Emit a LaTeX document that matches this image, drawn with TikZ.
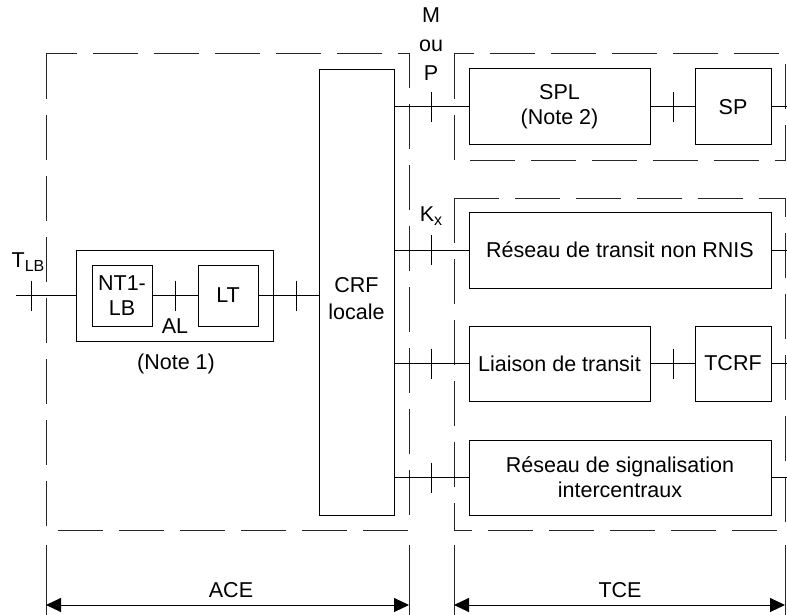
\documentclass[tikz,border=0pt]{standalone}
\usepackage{fontspec}
\setmainfont{Liberation Sans}
\usetikzlibrary{arrows.meta}
\begin{document}
\begin{tikzpicture}[x=1pt,y=-1pt,line width=1pt,
  box/.style={draw,line width=1pt,inner sep=0pt,align=center,font=\fontsize{21.5}{25}\selectfont},
  lbl/.style={inner sep=0pt,align=center,font=\fontsize{21.5}{27}\selectfont},
  frame/.style={draw=black!85,line width=1pt,dash pattern=on 45pt off 16pt},
  ext/.style={draw=black!85,line width=1pt},
  wire/.style={draw,line width=1pt},
  dimarrow/.style={line width=1pt,{Triangle[length=15pt,width=14pt]}-{Triangle[length=15pt,width=14pt]}}]
\useasboundingbox (0,0) rectangle (787,615);

% dashed frames
\draw[frame] (46,54) rectangle (409,530);
\draw[frame] (454,54) rectangle (785,160);
\draw[frame] (454,198) rectangle (785,530);
\foreach \x in {46,409,454,785} \draw[ext] (\x,545) -- (\x,615);

% boxes
\node[box,minimum width=75pt,minimum height=445pt] (crf) at (356.5,292.5) {};
\node[lbl] (crft) at (356.5,299) {CRF\\locale};
\node[box,minimum width=197pt,minimum height=91pt] (outer) at (174.5,295.5) {};
\node[box,minimum width=60pt,minimum height=61pt] (nt1) at (122,295.5) {NT1-\\LB};
\node[box,minimum width=60pt,minimum height=61pt] (lt) at (228,295.5) {LT};
\node[box,minimum width=181pt,minimum height=76pt] (spl) at (559.5,107) {SPL\\(Note 2)};
\node[box,minimum width=76pt,minimum height=76pt] (sp) at (733,107) {SP};
\node[box,minimum width=302pt,minimum height=76pt] (rtn) at (620,250) {Réseau de transit non RNIS};
\node[box,minimum width=181pt,minimum height=75pt] (lia) at (559.5,363.5) {Liaison de transit};
\node[box,minimum width=76pt,minimum height=75pt] (tcrf) at (733,363.5) {TCRF};
\node[box,minimum width=302pt,minimum height=75pt] (rsi) at (620,477.5) {Réseau de signalisation\\intercentraux};

% free ends
\coordinate (tin) at (16,295.5);
\coordinate (e1) at (787,107);
\coordinate (e2) at (787,250);
\coordinate (e3) at (787,363.5);
\coordinate (e4) at (787,477.5);

% connectors
\draw[wire] (tin) -- (outer.west);
\draw[wire] (nt1.east) -- (lt.west);
\draw[wire] (lt.east) -- (crf.west |- lt.east);
\draw[wire] (crf.east |- spl.west) -- (spl.west);
\draw[wire] (spl.east) -- (sp.west);
\draw[wire] (sp.east) -- (e1);
\draw[wire] (crf.east |- rtn.west) -- (rtn.west);
\draw[wire] (rtn.east) -- (e2);
\draw[wire] (crf.east |- lia.west) -- (lia.west);
\draw[wire] (lia.east) -- (tcrf.west);
\draw[wire] (tcrf.east) -- (e3);
\draw[wire] (crf.east |- rsi.west) -- (rsi.west);
\draw[wire] (rsi.east) -- (e4);

% ticks
\foreach \x/\y in {31/295.5,175/295.5,296/295.5,431/107,431/250,431/363.5,431/477.5,673/107,673/363.5}
  \draw[wire] (\x,\y-15) -- (\x,\y+15);

% labels
\node[lbl] (tlb) at (28,262) {T\raisebox{-0.35ex}{\fontsize{16}{16}\selectfont LB}};
\node[lbl] (al) at (175,326) {AL};
\node[lbl] (note1) at (176,364) {(Note 1)};
\node[lbl,font=\fontsize{21.5}{29}\selectfont] (mop) at (431,44.5) {M\\ou\\P};
\node[lbl] (kx) at (431,216) {K\raisebox{-0.35ex}{\fontsize{16}{16}\selectfont x}};
\node[lbl] (ace) at (231,590) {ACE};
\node[lbl] (tce) at (620,590) {TCE};

% dimension arrows
\coordinate (a1) at (46,605);
\coordinate (a2) at (409,605);
\coordinate (b1) at (454,605);
\coordinate (b2) at (785,605);
\draw[dimarrow] (a1) -- (a2);
\draw[dimarrow] (b1) -- (b2);
\end{tikzpicture}
\end{document}
